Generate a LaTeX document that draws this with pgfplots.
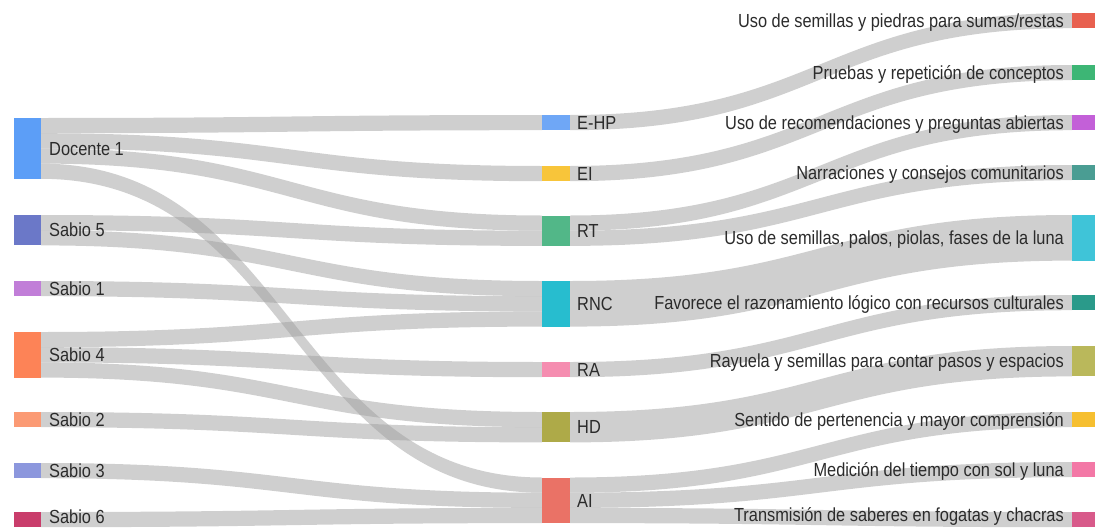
\documentclass[border=0pt]{standalone}
\usepackage{fontspec}
\setmainfont{Liberation Sans}[FakeStretch=0.865]
\usepackage{pgfplots}
\pgfplotsset{compat=1.18}

\definecolor{txt}{HTML}{2B2B2B}
\definecolor{lnk}{HTML}{A0A0A0}
% left
\definecolor{cD1}{HTML}{5C9EF7}
\definecolor{cS5}{HTML}{6B78C8}
\definecolor{cS1}{HTML}{C17ED8}
\definecolor{cS4}{HTML}{FD8357}
\definecolor{cS2}{HTML}{FB9A74}
\definecolor{cS3}{HTML}{8C97DD}
\definecolor{cS6}{HTML}{C93D6B}
% middle
\definecolor{cEHP}{HTML}{6FA7F6}
\definecolor{cEI}{HTML}{F8C53A}
\definecolor{cRT}{HTML}{52B788}
\definecolor{cRNC}{HTML}{27BDCF}
\definecolor{cRA}{HTML}{F58DB0}
\definecolor{cHD}{HTML}{AEAA48}
\definecolor{cAI}{HTML}{EA7266}
% right
\definecolor{r1}{HTML}{E8604F}
\definecolor{r2}{HTML}{3DB675}
\definecolor{r3}{HTML}{C360D8}
\definecolor{r4}{HTML}{4A9D93}
\definecolor{r5}{HTML}{3FC4D8}
\definecolor{r6}{HTML}{2A9A8A}
\definecolor{r7}{HTML}{BAB85B}
\definecolor{r8}{HTML}{F6BF30}
\definecolor{r9}{HTML}{F378A6}
\definecolor{r10}{HTML}{D85A8A}

\def\U{15.2}

% ribbon: x0, x1, y0 (source top), y1 (target top), units
\newcommand{\link}[5]{%
  \pgfmathsetmacro\xm{(#1+#2)/2}%
  \pgfmathsetmacro\yb{#3+#5*\U}%
  \pgfmathsetmacro\yd{#4+#5*\U}%
  \edef\tmp{\noexpand\fill[fill=lnk, fill opacity=0.5] (axis cs:#1,#3) .. controls (axis cs:\xm,#3) and (axis cs:\xm,#4) .. (axis cs:#2,#4) -- (axis cs:#2,\yd) .. controls (axis cs:\xm,\yd) and (axis cs:\xm,\yb) .. (axis cs:#1,\yb) -- cycle;}%
  \tmp}

% node box: x0, x1, top, units, colour
\newcommand{\nodebox}[5]{%
  \pgfmathsetmacro\yb{#3+#4*\U}%
  \edef\tmp{\noexpand\addplot[fill=#5, draw=none, mark=none] coordinates {(#1,#3) (#2,#3) (#2,\yb) (#1,\yb)} -- cycle;}%
  \tmp}

\tikzset{lbl/.style={inner sep=0pt, text height=13.6pt, text depth=0pt, text=txt, font=\fontsize{19}{21}\selectfont}}

\begin{document}
\begin{tikzpicture}
\begin{axis}[
  scale only axis, width=1095bp, height=528bp,
  xmin=0, xmax=1095, ymin=0, ymax=528, y dir=reverse,
  axis line style={draw=none}, xtick=\empty, ytick=\empty,
  clip=true]

% ---- links: sources -> middle
\link{41}{542}{118}{115}{1}
\link{41}{542}{133.2}{166}{1}
\link{41}{542}{148.4}{215.5}{1}
\link{41}{542}{163.6}{477.5}{1}
\link{41}{542}{215}{230.7}{1}
\link{41}{542}{230.2}{281}{1}
\link{41}{542}{281}{296.2}{1}
\link{41}{542}{332}{311.4}{1}
\link{41}{542}{347.2}{362}{1}
\link{41}{542}{362.4}{412}{1}
\link{41}{542}{412}{427.2}{1}
\link{41}{542}{463}{492.7}{1}
\link{41}{542}{512}{507.9}{1}
% ---- links: middle -> outcomes
\link{570}{1072}{115}{13}{1}
\link{570}{1072}{166}{65}{1}
\link{570}{1072}{215.5}{115}{1}
\link{570}{1072}{230.7}{165}{1}
\link{570}{1072}{281}{215}{3}
\link{570}{1072}{362}{295}{1}
\link{570}{1072}{412}{346}{2}
\link{570}{1072}{477.5}{412}{1}
\link{570}{1072}{492.7}{462}{1}
\link{570}{1072}{507.9}{512}{1}

% ---- nodes: left
\nodebox{14}{41}{118}{4}{cD1}
\nodebox{14}{41}{215}{2}{cS5}
\nodebox{14}{41}{281}{1}{cS1}
\nodebox{14}{41}{332}{3}{cS4}
\nodebox{14}{41}{412}{1}{cS2}
\nodebox{14}{41}{463}{1}{cS3}
\nodebox{14}{41}{512}{1}{cS6}
% ---- nodes: middle
\nodebox{542}{570}{115}{1}{cEHP}
\nodebox{542}{570}{166}{1}{cEI}
\nodebox{542}{570}{215.5}{2}{cRT}
\nodebox{542}{570}{281}{3}{cRNC}
\nodebox{542}{570}{362}{1}{cRA}
\nodebox{542}{570}{412}{2}{cHD}
\nodebox{542}{570}{477.5}{3}{cAI}
% ---- nodes: right
\nodebox{1072}{1095}{13}{1}{r1}
\nodebox{1072}{1095}{65}{1}{r2}
\nodebox{1072}{1095}{115}{1}{r3}
\nodebox{1072}{1095}{165}{1}{r4}
\nodebox{1072}{1095}{215}{3}{r5}
\nodebox{1072}{1095}{295}{1}{r6}
\nodebox{1072}{1095}{346}{2}{r7}
\nodebox{1072}{1095}{412}{1}{r8}
\nodebox{1072}{1095}{462}{1}{r9}
\nodebox{1072}{1095}{512}{1}{r10}

% ---- labels
\node[lbl, anchor=west] at (axis cs:49,148.4) {Docente 1};
\node[lbl, anchor=west] at (axis cs:49,230.2) {Sabio 5};
\node[lbl, anchor=west] at (axis cs:49,288.6) {Sabio 1};
\node[lbl, anchor=west] at (axis cs:49,354.8) {Sabio 4};
\node[lbl, anchor=west] at (axis cs:49,419.6) {Sabio 2};
\node[lbl, anchor=west] at (axis cs:49,470.6) {Sabio 3};
\node[lbl, anchor=west] at (axis cs:49,517.0) {Sabio 6};

\node[lbl, anchor=west] at (axis cs:577,122.6) {E-HP};
\node[lbl, anchor=west] at (axis cs:577,173.6) {EI};
\node[lbl, anchor=west] at (axis cs:577,230.7) {RT};
\node[lbl, anchor=west] at (axis cs:577,303.8) {RNC};
\node[lbl, anchor=west] at (axis cs:577,369.6) {RA};
\node[lbl, anchor=west] at (axis cs:577,427.2) {HD};
\node[lbl, anchor=west] at (axis cs:577,500.3) {AI};

\node[lbl, anchor=east] at (axis cs:1064,20.6) {Uso de semillas y piedras para sumas/restas};
\node[lbl, anchor=east] at (axis cs:1064,72.6) {Pruebas y repetición de conceptos};
\node[lbl, anchor=east] at (axis cs:1064,122.6) {Uso de recomendaciones y preguntas abiertas};
\node[lbl, anchor=east] at (axis cs:1064,172.6) {Narraciones y consejos comunitarios};
\node[lbl, anchor=east] at (axis cs:1064,237.8) {Uso de semillas, palos, piolas, fases de la luna};
\node[lbl, anchor=east] at (axis cs:1064,302.6) {Favorece el razonamiento lógico con recursos culturales};
\node[lbl, anchor=east] at (axis cs:1064,361.2) {Rayuela y semillas para contar pasos y espacios};
\node[lbl, anchor=east] at (axis cs:1064,419.6) {Sentido de pertenencia y mayor comprensión};
\node[lbl, anchor=east] at (axis cs:1064,469.6) {Medición del tiempo con sol y luna};
\node[lbl, anchor=east] at (axis cs:1064,515.0) {Transmisión de saberes en fogatas y chacras};

\end{axis}
\end{tikzpicture}
\end{document}
